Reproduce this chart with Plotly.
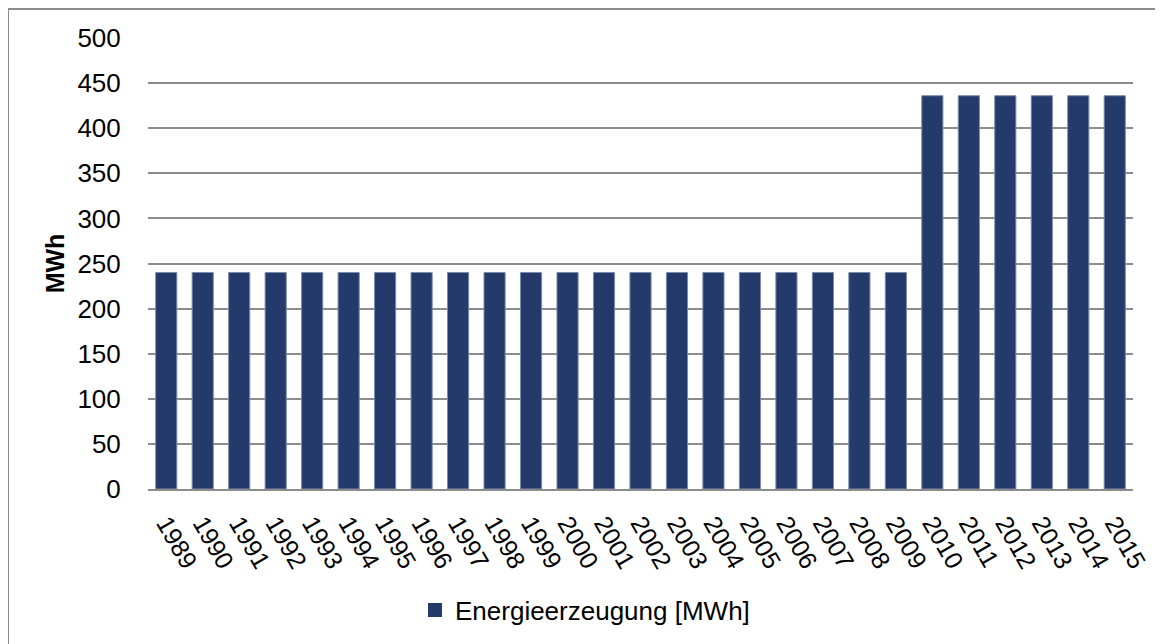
import plotly.graph_objects as go

years = [str(y) for y in range(1989, 2016)]
values = [240] * 21 + [436] * 6
series_name = "Energieerzeugung [MWh]"
y_ticks = [0, 50, 100, 150, 200, 250, 300, 350, 400, 450, 500]

FONT = "Liberation Sans, Arial, sans-serif"
BAR = "#233A6B"
GRID = "#8C8C8C"

# page body has an 8px margin, so work in figure coordinates = reference - 8
OFF = 8
W, H = 1163 - OFF, 644 - OFF
L, T = 148 - OFF, 38 - OFF
R = W - (1133 - OFF)
B = H - (490 - OFF)
pw = W - L - R
ph = H - T - B

fig = go.Figure()
fig.add_trace(go.Bar(
    x=years, y=values, name=series_name,
    marker=dict(color=BAR, line=dict(color="#7D8BAA", width=1)),
    showlegend=False,
))
# legend proxy (larger square symbol, as in the reference)
fig.add_trace(go.Scatter(
    x=[None], y=[None], mode="markers", name=series_name,
    marker=dict(symbol="square", size=14, color=BAR, line=dict(width=0)),
    showlegend=True,
))

fig.update_layout(
    width=W, height=H,
    margin=dict(l=L, r=R, t=T, b=B, pad=0),
    paper_bgcolor="white", plot_bgcolor="white",
    font=dict(family=FONT, size=26, color="black"),
    bargap=0.42,
    showlegend=True,
    legend=dict(
        orientation="h", x=(585 - 148) / pw, xanchor="center",
        y=(490 - 610) / ph, yanchor="middle",
        font=dict(size=26), itemwidth=30,
        bgcolor="rgba(0,0,0,0)",
    ),
    xaxis=dict(
        type="category", tickangle=60, showgrid=False,
        showline=True, linecolor=GRID, linewidth=2,
        ticks="outside", ticklen=8, tickcolor="rgba(0,0,0,0)",
        tickfont=dict(size=25),
    ),
    yaxis=dict(
        range=[0, 500], tickvals=y_ticks, showgrid=True, gridcolor=GRID, gridwidth=2,
        zeroline=False, showline=False,
        ticks="outside", ticklen=21, tickcolor="rgba(0,0,0,0)",
        tickfont=dict(size=26),
        title=dict(text="<b>MWh</b>", font=dict(size=25), standoff=5),
    ),
    shapes=[dict(
        type="rect", xref="paper", yref="paper",
        x0=(8 - 148) / pw, x1=(1163 + 5 - 148) / pw,
        y0=(490 - (644 + 5)) / ph, y1=(490 - 9) / ph,
        line=dict(color="#8C8C8C", width=2), fillcolor="rgba(0,0,0,0)", layer="below",
    )],
)

fig.write_html("out.html")
